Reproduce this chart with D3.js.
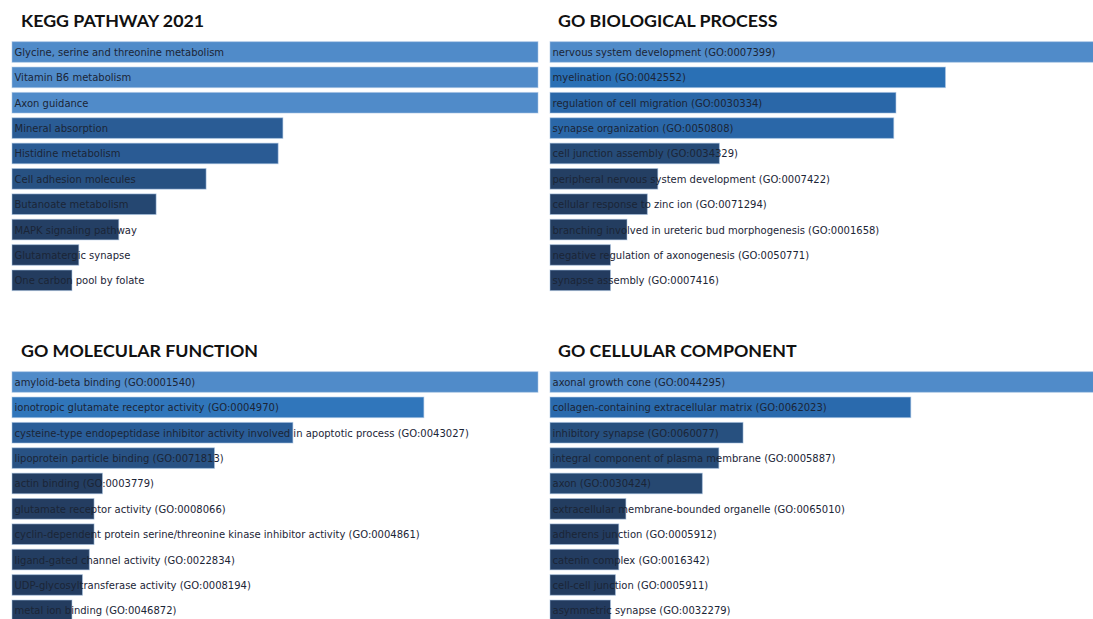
<!DOCTYPE html>
<html>
<head>
<meta charset="utf-8">
<script src="https://cdn.jsdelivr.net/npm/d3@7"></script>
<style>
  html, body { margin: 0; padding: 0; background: #ffffff; }
  svg { display: block; }
  .title { font-family: Lato, "Open Sans", sans-serif; font-weight: 700; fill: #111; }
  .term { font-family: "DejaVu Sans", sans-serif; fill: #1b2536; }
</style>
</head>
<body>
<svg id="chart" width="1093" height="619"></svg>
<script>
// Enrichment results, relative bar scores (top term = 100)
const keggTerms = [
  "Glycine, serine and threonine metabolism",
  "Vitamin B6 metabolism",
  "Axon guidance",
  "Mineral absorption",
  "Histidine metabolism",
  "Cell adhesion molecules",
  "Butanoate metabolism",
  "MAPK signaling pathway",
  "Glutamatergic synapse",
  "One carbon pool by folate"
];
const keggValues = [100, 100, 100, 51.5, 50.6, 36.9, 27.4, 20.3, 12.7, 11.4];

const bpTerms = [
  "nervous system development (GO:0007399)",
  "myelination (GO:0042552)",
  "regulation of cell migration (GO:0030334)",
  "synapse organization (GO:0050808)",
  "cell junction assembly (GO:0034329)",
  "peripheral nervous system development (GO:0007422)",
  "cellular response to zinc ion (GO:0071294)",
  "branching involved in ureteric bud morphogenesis (GO:0001658)",
  "negative regulation of axonogenesis (GO:0050771)",
  "synapse assembly (GO:0007416)"
];
const bpValues = [100, 71.9, 62.9, 62.5, 30.8, 19.6, 17.7, 14.0, 11.0, 11.0];

const mfTerms = [
  "amyloid-beta binding (GO:0001540)",
  "ionotropic glutamate receptor activity (GO:0004970)",
  "cysteine-type endopeptidase inhibitor activity involved in apoptotic process (GO:0043027)",
  "lipoprotein particle binding (GO:0071813)",
  "actin binding (GO:0003779)",
  "glutamate receptor activity (GO:0008066)",
  "cyclin-dependent protein serine/threonine kinase inhibitor activity (GO:0004861)",
  "ligand-gated channel activity (GO:0022834)",
  "UDP-glycosyltransferase activity (GO:0008194)",
  "metal ion binding (GO:0046872)"
];
const mfValues = [100, 78.3, 53.4, 38.5, 17.2, 15.6, 15.6, 14.7, 13.4, 11.4];

const ccTerms = [
  "axonal growth cone (GO:0044295)",
  "collagen-containing extracellular matrix (GO:0062023)",
  "inhibitory synapse (GO:0060077)",
  "integral component of plasma membrane (GO:0005887)",
  "axon (GO:0030424)",
  "extracellular membrane-bounded organelle (GO:0065010)",
  "adherens junction (GO:0005912)",
  "catenin complex (GO:0016342)",
  "cell-cell junction (GO:0005911)",
  "asymmetric synapse (GO:0032279)"
];
const ccValues = [100, 65.6, 35.1, 30.7, 27.7, 13.8, 12.5, 12.5, 11.9, 11.0];

const panelTitles = ["KEGG PATHWAY 2021", "GO BIOLOGICAL PROCESS", "GO MOLECULAR FUNCTION", "GO CELLULAR COMPONENT"];

const svg = d3.select("#chart");

// Bar fill deepens as the score drops
const color = d3.scaleLinear()
  .domain([0, 20, 35, 52, 65, 74, 100])
  .range(["#22375a", "#243f63", "#27507f", "#2a5c96", "#2a69ac", "#2a72b8", "#508bc9"])
  .interpolate(d3.interpolateRgb)
  .clamp(true);

const panels = [
  { title: panelTitles[0], terms: keggTerms, values: keggValues, x0: 12,  x1: 538,  top: 0,   titleX: 21 },
  { title: panelTitles[1], terms: bpTerms,   values: bpValues,   x0: 550, x1: 1100, top: 0,   titleX: 558 },
  { title: panelTitles[2], terms: mfTerms,   values: mfValues,   x0: 12,  x1: 538,  top: 330, titleX: 21 },
  { title: panelTitles[3], terms: ccTerms,   values: ccValues,   x0: 550, x1: 1100, top: 330, titleX: 558 }
];

panels.forEach(p => {
  const g = svg.append("g");

  const x = d3.scaleLinear().domain([0, 100]).range([p.x0, p.x1]);
  const y = d3.scaleBand()
    .domain(p.terms)
    .range([p.top + 39.3, p.top + 293.0])
    .paddingInner(0.188)
    .paddingOuter(0.094);

  g.append("text")
    .attr("class", "title")
    .attr("x", p.titleX)
    .attr("y", p.top + 27)
    .attr("font-size", 17.8)
    .text(p.title);

  const rows = p.terms.map((t, i) => ({ term: t, value: p.values[i] }));

  g.selectAll("rect.bar")
    .data(rows)
    .join("rect")
    .attr("class", "bar")
    .attr("x", x(0))
    .attr("y", d => y(d.term))
    .attr("width", d => x(d.value) - x(0))
    .attr("height", y.bandwidth())
    .attr("fill", d => color(d.value))
    .attr("stroke", "#a9c4e4")
    .attr("stroke-opacity", 0.55)
    .attr("stroke-width", 1);

  g.selectAll("text.term")
    .data(rows)
    .join("text")
    .attr("class", "term")
    .attr("x", x(0) + 2.5)
    .attr("y", d => y(d.term) + y.bandwidth() / 2)
    .attr("dy", "0.4em")
    .attr("font-size", 10)
    .text(d => d.term);
});
</script>
</body>
</html>
